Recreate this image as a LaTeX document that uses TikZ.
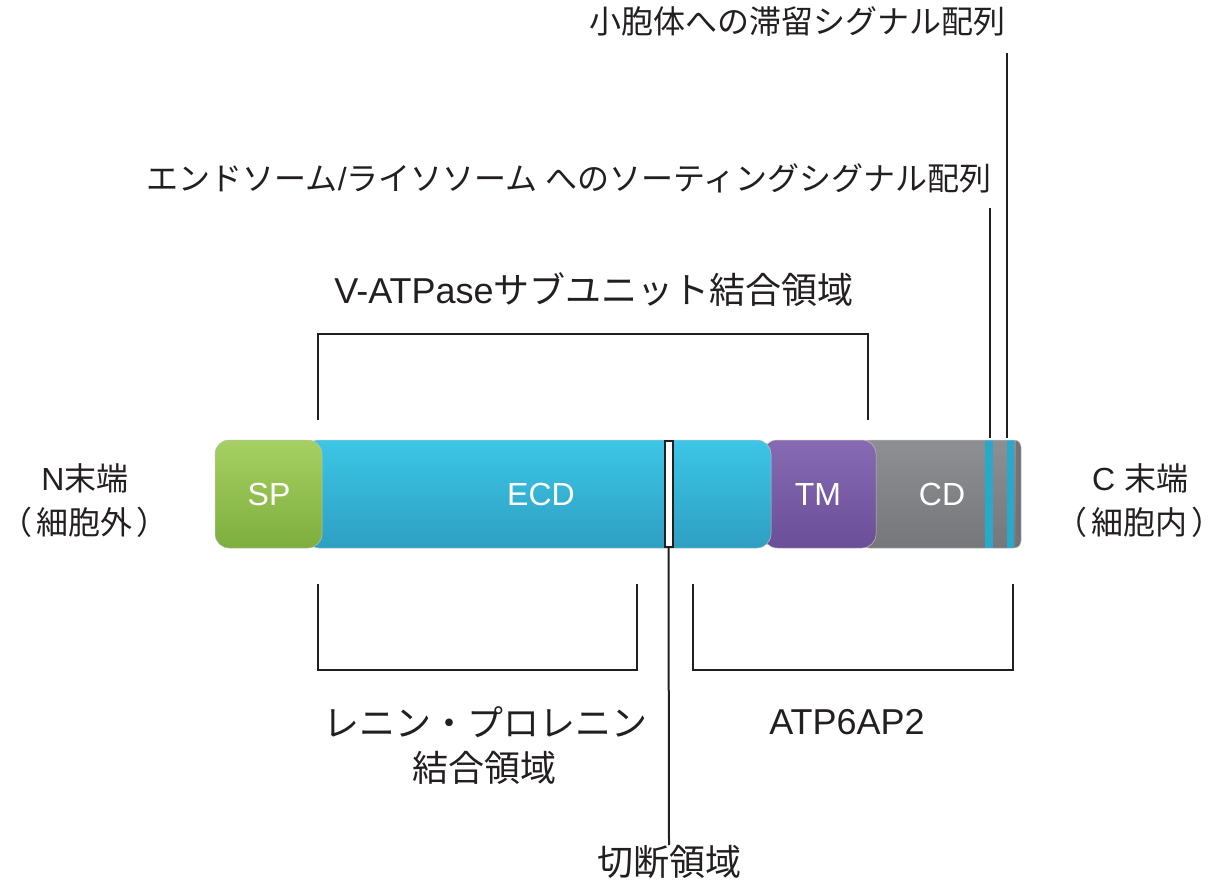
\documentclass[tikz,border=0pt]{standalone}
\usepackage{fontspec}
\setmainfont{Liberation Sans}
\newfontfamily\cjk{Noto Sans CJK JP}
\usetikzlibrary{positioning}
\definecolor{ink}{HTML}{231F20}
\definecolor{spTop}{HTML}{A6D062}
\definecolor{spBot}{HTML}{7EAE3E}
\definecolor{ecdTop}{HTML}{3CC6E6}
\definecolor{ecdBot}{HTML}{2E9FC2}
\definecolor{tmTop}{HTML}{866AB3}
\definecolor{tmBot}{HTML}{6A4F98}
\definecolor{cdTop}{HTML}{8E8F92}
\definecolor{cdBot}{HTML}{76777A}
\definecolor{stripe}{HTML}{2AA8CA}
\tikzset{
  lbl/.style={text=ink, font=\fontsize{32}{38}\selectfont\cjk, inner sep=0pt},
  biglbl/.style={text=ink, font=\fontsize{36}{42}\selectfont\cjk, inner sep=0pt},
  wlbl/.style={text=white, font=\fontsize{32}{38}\selectfont, inner sep=0pt},
  brk/.style={draw=ink, line width=2pt},
  seg/.style={rounded corners=14pt, draw=black!25, line width=0.5pt},
}
\begin{document}
\begin{tikzpicture}[x=1pt,y=-1pt]
\useasboundingbox (0,0) rectangle (1225,882);
% bar segments
\begin{scope}
  \clip[rounded corners=7pt] (862,440) rectangle (1021,548);
  \shade[top color=cdTop, bottom color=cdBot] (862,440) rectangle (1021,548);
  \fill[black!55] (1016,440) rectangle (1021,548);
  \fill[stripe] (985,440) rectangle (993,548);
  \fill[stripe] (1007,440) rectangle (1014,548);
\end{scope}
\draw[rounded corners=7pt, draw=black!25, line width=0.5pt] (862,440) rectangle (1021,548);
\shade[seg, top color=tmTop, bottom color=tmBot] (763,440) rectangle (876,548);
\shade[seg, top color=ecdTop, bottom color=ecdBot] (305,440) rectangle (771,548);
\shade[seg, top color=spTop, bottom color=spBot] (215,440) rectangle (322,548);
\node[wlbl] (sp) at (269,494) {SP};
\node[wlbl] (ecd) at (541,494) {ECD};
\node[wlbl] (tm) at (818,494) {TM};
\node[wlbl] (cd) at (942,494) {CD};
% cleavage box
\node[draw=ink, fill=white, line width=2pt, minimum width=8pt, minimum height=106pt, inner sep=0pt] (cleave) at (668.5,494) {};
\node[biglbl] (cut) at (669,862) {切断領域};
\draw[brk] (cleave.south) -- (cut.north);
% terminals
\node[lbl] (n1) at (85,478) {{\fontspec{Liberation Sans}N}末端};
\node[lbl] (n2) at (85,522) {（\hspace{4pt}細胞外\hspace{4pt}）};
\node[lbl] (c1) at (1140,478) {{\fontspec{Liberation Sans}C }末端};
\node[lbl] (c2) at (1139,522) {（\hspace{4pt}細胞内\hspace{4pt}）};
% top labels
\node[lbl] (er) at (797,22) {小胞体への滞留シグナル配列};
\node[lbl] (endo) at (569,178) {エンドソーム{\fontspec{Liberation Sans}/}ライソソーム へのソーティングシグナル配列};
\node[biglbl] (vat) at (594,290) {{\fontspec{Liberation Sans}V-ATPase}サブユニット結合領域};
% signal lines
\coordinate (s1t) at (990,208);
\coordinate (s1b) at (990,438);
\coordinate (s2t) at (1007,53);
\coordinate (s2b) at (1007,438);
\draw[brk] (s1t) -- (s1b);
\draw[brk] (s2t) -- (s2b);
% brackets
\coordinate (t1) at (318,420); \coordinate (t2) at (318,334);
\coordinate (t3) at (868,334); \coordinate (t4) at (868,420);
\draw[brk] (t1) -- (t2) -- (t3) -- (t4);
\coordinate (l1) at (318,584); \coordinate (l2) at (318,670);
\coordinate (l3) at (637,670); \coordinate (l4) at (637,584);
\draw[brk] (l1) -- (l2) -- (l3) -- (l4);
\coordinate (r1) at (693,584); \coordinate (r2) at (693,670);
\coordinate (r3) at (1013,670); \coordinate (r4) at (1013,584);
\draw[brk] (r1) -- (r2) -- (r3) -- (r4);
% bottom labels
\node[biglbl] (ren1) at (485,722) {レニン・プロレニン};
\node[biglbl] (ren2) at (484,768) {結合領域};
\node[biglbl, font=\fontsize{36}{42}\selectfont] (atp) at (847,722) {ATP6AP2};
\end{tikzpicture}
\end{document}
